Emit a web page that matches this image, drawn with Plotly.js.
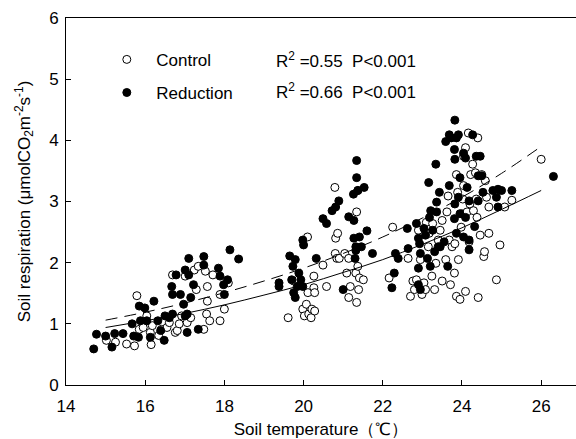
<!DOCTYPE html>
<html>
<head>
<meta charset="utf-8">
<script src="https://cdn.plot.ly/plotly-3.0.1.min.js"></script>
<style>html,body{margin:0;padding:0;background:#fff;}#chart{width:576px;height:439px;}</style>
</head>
<body>
<div id="chart"></div>
<script>
// Control (open circles)
var controlT = [15.02,15.25,15.53,15.73,15.79,15.85,15.95,16.04,16.13,16.15,16.18,16.34,16.41,16.55,16.61,16.69,16.76,16.81,16.86,16.92,17.06,17.15,17.24,17.29,17.34,17.48,17.52,17.57,17.55,17.57,17.63,17.71,17.89,17.89,18.00,18.10,17.01,
  19.61,19.75,19.88,19.98,20.02,20.07,20.10,20.11,20.13,20.19,20.21,20.26,20.26,20.28,20.28,20.49,20.58,20.79,20.81,20.86,20.80,20.84,20.90,21.04,21.09,21.14,21.14,21.18,21.32,21.34,21.34,21.37,21.39,21.41,21.51,21.37,
  22.16,22.25,22.64,22.70,22.76,22.80,22.85,22.90,22.95,22.99,23.04,23.08,23.10,23.15,23.17,23.24,23.26,23.31,23.34,23.40,23.45,23.50,23.50,23.59,23.62,23.65,23.68,23.71,23.75,23.81,23.82,23.86,23.89,23.91,23.95,23.98,24.00,24.02,24.04,24.09,24.09,24.13,24.16,24.18,24.20,24.22,24.27,24.29,24.36,24.38,24.40,24.41,24.46,24.50,24.55,24.57,24.59,24.62,24.68,24.68,24.87,24.96,25.08,25.26,26.00,23.86,24.04,24.34];
var controlR = [0.73,0.70,0.67,0.64,1.46,0.91,0.94,1.13,0.86,0.66,0.97,0.81,0.91,0.94,1.02,1.80,0.86,0.89,1.00,1.13,1.02,1.10,1.88,1.56,1.94,0.91,1.86,1.37,1.16,1.61,1.05,1.80,1.48,1.05,1.24,1.67,1.78,
  1.10,1.70,1.72,1.24,1.13,1.32,2.42,1.51,1.16,1.10,1.24,1.78,1.59,1.21,1.51,1.96,1.61,3.23,2.40,2.48,2.15,2.07,2.07,2.15,1.83,2.07,1.43,1.61,1.83,2.83,1.35,1.94,1.56,1.75,1.72,3.18,
  1.75,2.58,2.07,1.45,1.70,1.56,1.72,2.53,2.05,1.48,1.67,1.56,2.66,2.26,2.48,1.78,2.64,1.56,1.99,2.37,2.53,2.69,1.70,2.05,2.83,3.09,2.37,1.64,2.26,1.83,2.31,1.45,3.15,2.05,1.40,2.58,2.80,3.04,3.26,3.88,1.53,2.83,4.12,2.34,2.96,3.44,3.61,2.85,3.04,2.74,4.04,1.43,2.45,3.44,2.10,2.18,3.34,3.07,2.91,2.48,1.72,2.29,2.91,3.02,3.69,3.44,3.74,3.47];

// Reduction (filled circles)
var reductionT = [14.70,14.77,15.00,15.16,15.23,15.44,15.67,15.71,15.83,15.85,15.99,15.88,16.04,16.13,16.22,16.32,16.39,16.48,16.50,16.61,16.69,16.67,16.69,16.78,16.89,16.97,17.01,17.06,17.06,17.10,17.10,17.15,17.22,17.34,17.48,17.48,17.85,17.89,17.98,18.00,18.08,18.14,18.36,17.01,
  19.38,19.38,19.65,19.70,19.73,19.79,19.79,19.75,19.84,19.88,19.93,19.98,20.00,19.98,20.32,20.49,20.58,20.72,20.81,20.89,21.00,21.14,21.26,21.27,21.27,21.30,21.32,21.34,21.34,21.37,21.41,21.46,21.53,21.60,21.74,21.32,
  22.23,22.29,22.32,22.39,22.62,22.64,22.85,22.90,22.90,22.93,22.95,22.90,22.95,23.04,23.08,23.13,23.16,23.18,23.20,23.21,23.26,23.31,23.34,23.36,23.36,23.40,23.43,23.45,23.55,23.59,23.64,23.68,23.68,23.73,23.82,23.81,23.82,23.81,23.82,23.86,23.91,23.86,23.91,23.95,23.95,24.04,24.04,24.09,24.09,24.13,24.18,24.18,24.18,24.27,24.32,24.36,24.41,24.41,24.46,24.50,24.53,24.78,24.87,24.91,24.91,25.00,25.26,26.31];
var reductionR = [0.59,0.83,0.80,0.62,0.84,0.84,1.00,0.80,0.78,1.29,1.26,1.05,1.05,0.78,1.37,1.05,0.89,0.73,1.13,1.10,1.16,1.61,1.48,1.80,1.48,1.32,1.88,1.16,0.86,2.07,1.80,1.43,1.64,0.91,2.10,1.96,1.91,1.78,1.64,1.48,1.72,2.21,2.06,1.13,
  1.67,1.61,2.11,1.72,1.94,2.05,1.43,1.51,1.61,1.83,1.72,2.37,2.29,1.61,2.07,2.72,2.64,2.85,2.91,3.01,1.56,2.75,3.12,2.69,2.40,2.07,2.26,3.67,3.39,3.18,2.42,2.26,3.23,2.52,2.15,2.20,
  1.59,1.83,2.15,2.07,2.56,2.23,2.64,2.40,1.91,2.31,2.15,1.64,1.56,2.56,2.45,2.07,3.31,2.74,1.94,2.85,2.53,2.18,3.61,2.99,2.83,2.26,3.15,2.26,2.34,3.98,1.94,3.26,4.09,4.04,4.33,3.85,3.69,2.72,2.96,4.04,4.09,2.48,3.07,3.39,2.80,3.79,2.42,3.71,2.74,3.23,3.01,2.37,2.21,4.09,2.59,3.74,3.01,3.42,3.74,3.42,3.15,3.18,3.07,2.91,3.20,3.18,3.18,3.41];

// Fitted curves
var fitT = [15,16,17,18,19,20,21,22,23,24,25,26];
var fitControl = [0.94,1.05,1.17,1.31,1.47,1.64,1.84,2.05,2.30,2.57,2.87,3.18];
var fitReduction = [1.06,1.19,1.34,1.51,1.70,1.91,2.15,2.42,2.73,3.07,3.46,3.90];

var xTicks = [14,16,18,20,22,24,26];
var yTicks = [0,1,2,3,4,5,6];

var FONT = 'Liberation Sans, Arial, sans-serif';

var traces = [
  {x: controlT, y: controlR, type: 'scatter', mode: 'markers', name: '\u00a0\u00a0Control',
   legendgroup: 'c', marker: {symbol: 'circle', size: 8, color: '#ffffff', line: {color: '#000000', width: 1}}},
  {x: reductionT, y: reductionR, type: 'scatter', mode: 'markers', name: '\u00a0\u00a0Reduction',
   legendgroup: 'r', marker: {symbol: 'circle', size: 8, color: '#000000', line: {color: '#000000', width: 1}}},
  {x: fitT, y: fitControl, type: 'scatter', mode: 'lines', showlegend: false, line: {shape: 'spline', color: '#000000', width: 1}},
  {x: fitT, y: fitReduction, type: 'scatter', mode: 'lines', showlegend: false, line: {shape: 'spline', color: '#000000', width: 1, dash: '12px,7px'}}
];

var layout = {
  width: 576, height: 439,
  margin: {l: 66, r: 0, t: 18, b: 54, pad: 0},
  paper_bgcolor: '#ffffff', plot_bgcolor: '#ffffff',
  font: {family: FONT, size: 17, color: '#000000'},
  showlegend: true,
  legend: {x: 0.080, y: 0.935, xanchor: 'left', yanchor: 'top', bgcolor: 'rgba(0,0,0,0)',
           font: {family: FONT, size: 17, color: '#000'}, tracegroupgap: 8, itemclick: false},
  xaxis: {range: [14, 26.88], tickvals: xTicks, ticktext: xTicks.map(String), ticks: 'inside', ticklen: 5,
          tickcolor: '#000', showline: true, linecolor: '#000', linewidth: 1, mirror: true,
          showgrid: false, zeroline: false, tickfont: {family: FONT, size: 17}, ticklabelstandoff: 6,
          title: {text: 'Soil temperature\uff08\u2103\uff09', font: {family: FONT, size: 17}, standoff: 7}},
  yaxis: {range: [0, 6], tickvals: yTicks, ticktext: yTicks.map(String), ticks: 'inside', ticklen: 5,
          tickcolor: '#000', showline: true, linecolor: '#000', linewidth: 1,
          showgrid: false, zeroline: false, tickfont: {family: FONT, size: 17}, ticklabelstandoff: 3,
          title: {text: 'Soil respiration (\u03bcmolCO<sub>2</sub>m<sup>-2</sup>s<sup>-1</sup>)', font: {family: FONT, size: 17}, standoff: 14}},
  annotations: [
    {xref: 'paper', yref: 'paper', x: 0.408, y: 0.886, xanchor: 'left', yanchor: 'middle', showarrow: false,
     text: 'R<sup>2</sup> =0.55\u00a0\u00a0P&lt;0.001', font: {family: FONT, size: 17}},
    {xref: 'paper', yref: 'paper', x: 0.408, y: 0.801, xanchor: 'left', yanchor: 'middle', showarrow: false,
     text: 'R<sup>2</sup> =0.66\u00a0\u00a0P&lt;0.001', font: {family: FONT, size: 17}}
  ]
};

Plotly.newPlot('chart', traces, layout, {displayModeBar: false, staticPlot: true});
</script>
</body>
</html>
